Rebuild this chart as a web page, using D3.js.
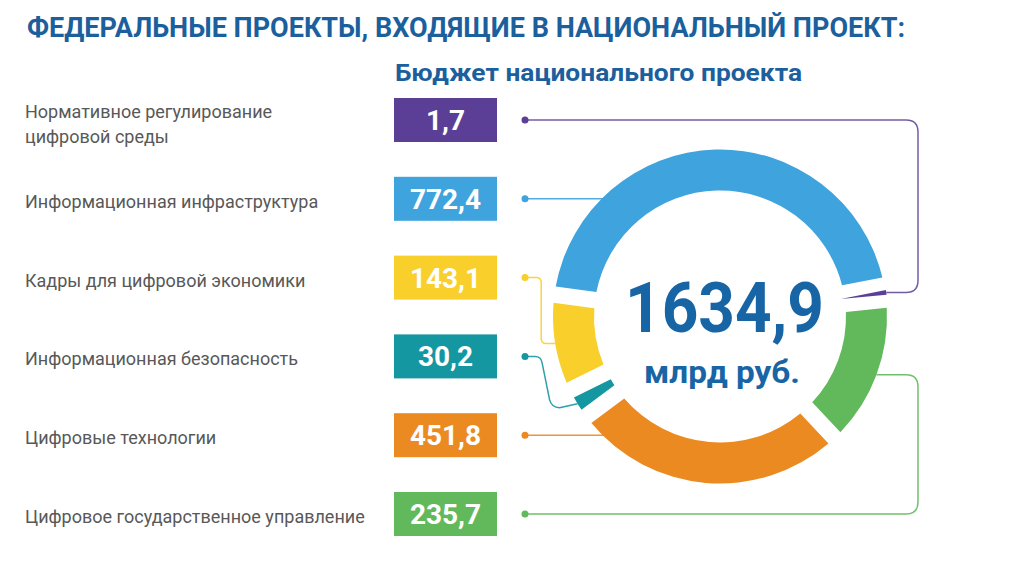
<!DOCTYPE html>
<html><head><meta charset="utf-8">
<script src="https://cdn.jsdelivr.net/npm/d3@7"></script>
<style>
html,body{margin:0;padding:0;background:#fff;}
svg{display:block;font-family:Roboto,"Noto Sans",sans-serif;}
</style>
</head><body>
<svg id="chart" width="1024" height="576"></svg>
<script>
// ---- data ----
const titleText = "ФЕДЕРАЛЬНЫЕ ПРОЕКТЫ, ВХОДЯЩИЕ В НАЦИОНАЛЬНЫЙ ПРОЕКТ:";
const subtitleText = "Бюджет национального проекта";
const categories = [
  "Нормативное регулирование цифровой среды",
  "Информационная инфраструктура",
  "Кадры для цифровой экономики",
  "Информационная безопасность",
  "Цифровые технологии",
  "Цифровое государственное управление"
];
const labelLines = [
  ["Нормативное регулирование", "цифровой среды"],
  ["Информационная инфраструктура"],
  ["Кадры для цифровой экономики"],
  ["Информационная безопасность"],
  ["Цифровые технологии"],
  ["Цифровое государственное управление"]
];
const values = [1.7, 772.4, 143.1, 30.2, 451.8, 235.7];
const colors = ["#5b3f96", "#3fa3dd", "#f9cf2b", "#1597a1", "#ec8a22", "#62b95b"];
const ringOrder = [1, 0, 5, 4, 3, 2]; // clockwise from the left of the ring
const unitLabel = "млрд руб.";

// ---- helpers ----
const ru = d3.formatLocale({decimal: ",", thousands: "\u00a0", grouping: [3], currency: ["", ""]});
const fmt = v => ru.format(".1f")(v).replace(/\u00a0/g, "");
const deg = Math.PI / 180;

const svg = d3.select("#chart");

// titles
svg.append("text").attr("x", 27).attr("y", 37).attr("fill", "#1c5f9d")
  .attr("font-size", 28).attr("font-weight", 700)
  .attr("textLength", 878).attr("lengthAdjust", "spacingAndGlyphs").text(titleText);
svg.append("text").attr("x", 395).attr("y", 81).attr("fill", "#1c5f9d")
  .attr("font-size", 23).attr("font-weight", 700)
  .attr("textLength", 407).attr("lengthAdjust", "spacingAndGlyphs").text(subtitleText);

// rows
const y = d3.scalePoint().domain(d3.range(categories.length)).range([120, 514]);
const boxX = 394, boxW = 103, boxH = 44, dotX = 525;

const rows = svg.append("g");
categories.forEach((c, i) => {
  const yc = y(i);
  const lines = labelLines[i];
  const t = rows.append("text").attr("x", 25).attr("fill", "#585858").attr("font-size", 18);
  if (lines.length === 1) {
    t.attr("y", yc + 9).text(lines[0]);
  } else {
    lines.forEach((l, k) => t.append("tspan").attr("x", 25).attr("y", yc - 2 + k * 25).text(l));
  }
  rows.append("rect").attr("x", boxX).attr("y", yc - boxH / 2).attr("width", boxW).attr("height", boxH)
    .attr("fill", colors[i]);
  rows.append("text").attr("x", boxX + boxW / 2).attr("y", yc + 10).attr("text-anchor", "middle")
    .attr("fill", "#fff").attr("font-size", 28).attr("font-weight", 700).text(fmt(values[i]));
});

// ring geometry
const cx = 720, cy = 316.5, R = 167, r0 = 126;
const pad = 4.5 * deg, start = -82.5 * deg;
const pie = d3.pie().sort(null).value(i => values[i]).padAngle(pad)
  .startAngle(start).endAngle(start + 2 * Math.PI);
const arcs = pie(ringOrder);
const arcOf = {};
arcs.forEach(a => arcOf[a.data] = a);
const arc = d3.arc().innerRadius(r0).outerRadius(R);
const pt = (ang, rad) => [cx + rad * Math.sin(ang), cy - rad * Math.cos(ang)];
const mid = a => (a.startAngle + a.endAngle) / 2;

// connectors
const conn = svg.append("g").attr("fill", "none").attr("stroke-width", 1.5);
const railX = 918, rc = 12;
categories.forEach((c, i) => {
  const yc = y(i);
  const a = arcOf[i];
  let d;
  if (i === 0) {
    const P = pt(mid(a), R + 1);
    d = `M${dotX},${yc} H${railX - rc} Q${railX},${yc} ${railX},${yc + rc} V${P[1] - rc} Q${railX},${P[1]} ${railX - rc},${P[1]} L${P[0]},${P[1]}`;
  } else if (i === 5) {
    const P = pt(mid(a), R);
    d = `M${dotX},${yc} H${railX - rc} Q${railX},${yc} ${railX},${yc - rc} V${P[1] + rc} Q${railX},${P[1]} ${railX - rc},${P[1]} L${P[0]},${P[1]}`;
  } else if (i === 2) {
    const P = pt(mid(a), R);
    const vx = P[0] - 14;
    d = `M${dotX},${yc} H${vx - 5} Q${vx},${yc} ${vx},${yc + 5} V${P[1] - 5} Q${vx},${P[1]} ${vx + 5},${P[1]} L${P[0]},${P[1]}`;
  } else if (i === 3) {
    const P = pt(mid(a), R);
    d = `M${dotX},${yc} H${dotX + 10} Q${dotX + 16},${yc} ${dotX + 17},${yc + 6} L${P[0] - 28},${P[1] - 4} Q${P[0] - 26},${P[1] + 4} ${P[0] - 18},${P[1] + 4} L${P[0]},${P[1]}`;
  } else {
    const dy = yc - cy;
    const x2 = cx - Math.sqrt(R * R - dy * dy) + 2;
    d = `M${dotX},${yc} H${x2}`;
  }
  conn.append("path").attr("d", d).attr("stroke", colors[i]).attr("stroke-opacity", i === 0 ? 0.85 : 0.9);
  svg.append("circle").attr("cx", dotX).attr("cy", yc).attr("r", 3.5).attr("fill", colors[i]);
});

// ring arcs
const ring = svg.append("g");
arcs.forEach(a => {
  if (a.data === 0) {
    const m = mid(a);
    const tip = pt(m, r0 - 4), b1 = pt(m - 0.8 * deg, R + 1), b2 = pt(m + 0.8 * deg, R + 1);
    ring.append("path").attr("d", `M${tip[0]},${tip[1]} L${b1[0]},${b1[1]} L${b2[0]},${b2[1]} Z`)
      .attr("fill", colors[0]);
  } else {
    ring.append("path").attr("transform", `translate(${cx},${cy})`).attr("d", arc(a))
      .attr("fill", colors[a.data]);
  }
});

// centre
const total = d3.sum(values);
svg.append("text").attr("x", 724.5).attr("y", 332).attr("text-anchor", "middle")
  .attr("fill", "#1865a6").attr("font-size", 70).attr("font-weight", 700)
  .attr("textLength", 199).attr("lengthAdjust", "spacingAndGlyphs").text(fmt(total));
svg.append("text").attr("x", 722).attr("y", 383).attr("text-anchor", "middle")
  .attr("fill", "#1865a6").attr("font-size", 32).attr("font-weight", 700)
  .attr("textLength", 156).attr("lengthAdjust", "spacingAndGlyphs").text(unitLabel);
</script>
</body></html>
